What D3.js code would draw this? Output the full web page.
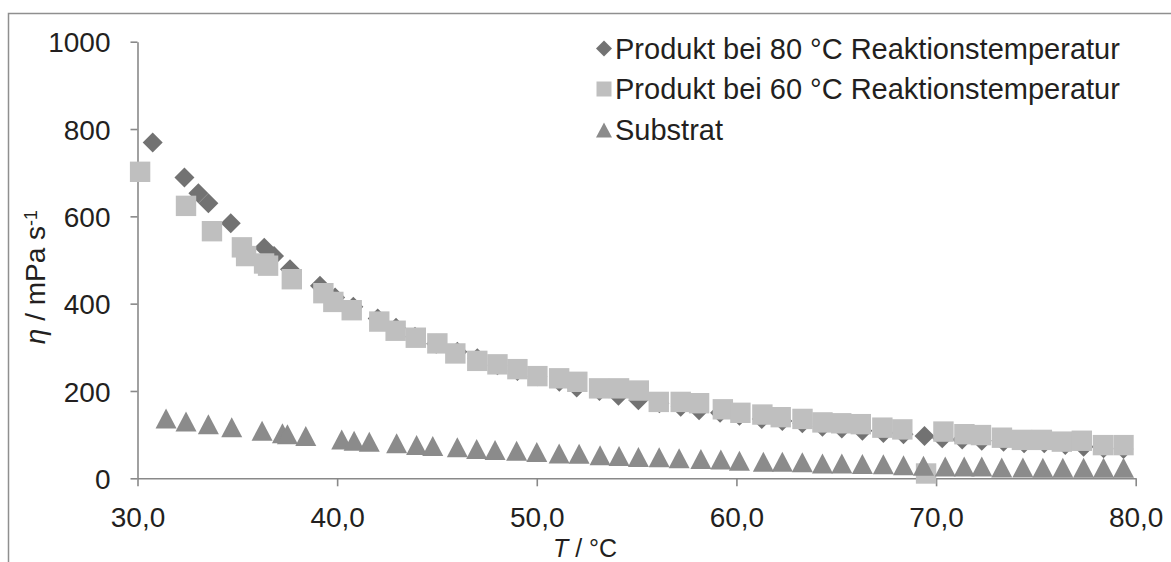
<!DOCTYPE html>
<html>
<head>
<meta charset="utf-8">
<script src="https://cdn.jsdelivr.net/npm/d3@7"></script>
<style>
  body { margin: 0; background: #fff; }
  svg { display: block; }
  text { font-family: "Liberation Sans", Arial, Helvetica, sans-serif; fill: #231f20; }
</style>
</head>
<body>
<svg id="chart" width="1171" height="562"></svg>
<script>
// Viscosity vs. temperature, three samples
const seriesNames = [
  "Produkt bei 80 °C Reaktionstemperatur",
  "Produkt bei 60 °C Reaktionstemperatur",
  "Substrat"
];

const tempP80 = [30.76, 32.35, 33.05, 33.55, 34.67, 36.35, 36.84, 37.64, 39.14, 39.9,
  40.81, 42.03, 42.95, 43.9, 44.96, 46.02, 47.02, 48.03, 49.03, 50.03,
  51.13, 52.0, 53.14, 54.09, 55.09, 56.14, 57.21, 58.13, 59.18, 60.15,
  61.27, 62.3, 63.3, 64.31, 65.28, 66.31, 67.36, 68.37, 69.42, 70.31,
  71.31, 72.29, 73.38, 74.41, 75.42, 76.47, 77.39, 78.39, 79.39];
const etaP80 = [769, 689, 653, 630, 584, 528, 509, 479, 441, 414,
  393, 366, 345, 324, 308, 290, 275, 259, 246, 234,
  221, 208, 200, 189, 179, 172, 164, 156, 150, 143,
  136, 131, 126, 118, 114, 109, 104, 101, 97, 92,
  89, 86, 84, 80, 80, 76, 72, 69, 67];

const tempP60 = [30.13, 32.43, 33.73, 35.23, 35.44, 36.34, 36.54, 37.73, 39.31, 39.81,
  40.73, 42.11, 42.93, 43.94, 45.02, 45.92, 47.02, 48.03, 49.03, 50.03,
  51.12, 52.03, 53.12, 54.12, 55.11, 56.11, 57.21, 58.13, 59.32, 60.2,
  61.3, 62.22, 63.31, 64.31, 65.25, 66.23, 67.31, 68.31, 69.5, 70.37,
  71.42, 72.25, 73.3, 74.3, 75.3, 76.3, 77.3, 78.36, 79.39];
const etaP60 = [702, 624, 566, 529, 509, 492, 487, 456, 424, 404,
  385, 359, 338, 322, 309, 286, 269, 261, 250, 234,
  229, 221, 206, 206, 201, 175, 175, 172, 158, 150,
  146, 140, 136, 128, 126, 124, 116, 112, 11, 107,
  101, 99, 93, 88, 88, 84, 86, 76, 76];

const tempSub = [31.43, 32.43, 33.55, 34.72, 36.24, 37.26, 37.51, 38.43,
  40.23, 40.85, 41.61, 42.98, 43.98, 44.79, 46.02, 46.99, 47.91, 48.99, 50.0,
  51.12, 52.12, 53.17, 54.12, 55.09, 56.13, 57.13, 58.22, 59.22, 60.15,
  61.35, 62.3, 63.3, 64.31, 65.28, 66.31, 67.36, 68.37, 69.37,
  70.46, 71.41, 72.29, 73.29, 74.35, 75.35, 76.35, 77.39, 78.39, 79.39];
const etaSub = [137, 130, 124, 117, 109, 103, 101, 97,
  89, 86, 84, 80, 76, 74, 71, 67, 65, 63, 60,
  57, 56, 53, 51, 49, 48, 46, 44, 43, 40,
  38, 38, 37, 34, 34, 33, 32, 30, 29,
  27, 27, 27, 25, 25, 24, 24, 24, 24, 24];

const xTicks = [30, 40, 50, 60, 70, 80];
const yTicks = [0, 200, 400, 600, 800, 1000];

const colors = ["#727272", "#bfbfbf", "#8b8b8b"];
const axisColor = "#898989";

const svg = d3.select("#chart");

// Outer chart frame (left and top edges)
svg.append("path")
  .attr("d", "M8.5,562 V13.5 H1171")
  .attr("fill", "none")
  .attr("stroke", "#8f8f8f")
  .attr("stroke-width", 1.5);

const x = d3.scaleLinear().domain([30, 80]).range([137.5, 1135.7]);
const y = d3.scaleLinear().domain([0, 1000]).range([478.3, 41.7]);

const fmt = d => d.toFixed(1).replace(".", ",");

// Y axis
const gy = svg.append("g")
  .attr("transform", `translate(${x(30)},0)`)
  .call(d3.axisLeft(y).tickValues(yTicks).tickSize(7).tickSizeOuter(0).tickPadding(20).tickFormat(d => d));
// X axis
const gx = svg.append("g")
  .attr("transform", `translate(0,${y(0)})`)
  .call(d3.axisBottom(x).tickValues(xTicks).tickSize(8).tickSizeOuter(0).tickPadding(21).tickFormat(fmt));

[gx, gy].forEach(g => {
  g.select(".domain").attr("stroke", axisColor).attr("stroke-width", 1.6);
  g.selectAll(".tick line").attr("stroke", axisColor).attr("stroke-width", 1.6);
  g.selectAll(".tick text").attr("fill", "#231f20")
    .style("font-size", "28px")
    .style("font-family", "'Liberation Sans', Arial, sans-serif");
});
gy.selectAll(".tick text").attr("dy", "0.36em");

// Marker shapes
const diamond = r => `M0,${-r}L${r},0L0,${r}L${-r},0Z`;
const square = r => `M${-r},${-r}H${r}V${r}H${-r}Z`;
const triangle = (w, h) => `M0,${-h / 2}L${w / 2},${h / 2}L${-w / 2},${h / 2}Z`;

const series = [
  { name: seriesNames[0], t: tempP80, v: etaP80, path: diamond(10), legend: diamond(8), color: colors[0] },
  { name: seriesNames[1], t: tempP60, v: etaP60, path: square(10.2), legend: square(7.5), color: colors[1] },
  { name: seriesNames[2], t: tempSub, v: etaSub, path: triangle(21, 20), legend: triangle(16, 15), color: colors[2] }
];

series.forEach(s => {
  const pts = s.t.map((t, i) => ({ t, v: s.v[i] }));
  svg.append("g").selectAll("path")
    .data(pts)
    .join("path")
    .attr("d", s.path)
    .attr("fill", s.color)
    .attr("transform", d => `translate(${x(d.t)},${y(d.v)})`);
});

// Legend
const legendRows = [58.5, 99, 140];
const legend = svg.append("g");
series.forEach((s, i) => {
  const g = legend.append("g").attr("transform", `translate(0,${legendRows[i]})`);
  g.append("path")
    .attr("d", s.legend)
    .attr("fill", s.color)
    .attr("transform", `translate(604,${-10})`);
  g.append("text")
    .attr("x", 615)
    .attr("y", 0)
    .style("font-size", "29px")
    .text(s.name);
});

// Axis titles
const yTitle = svg.append("text")
  .attr("transform", "translate(45,277) rotate(-90)")
  .attr("text-anchor", "middle")
  .style("font-size", "28px");
yTitle.append("tspan").style("font-style", "italic").text("η");
yTitle.append("tspan").text(" / mPa s");
yTitle.append("tspan").attr("dy", "-0.45em").style("font-size", "18px").text("-1");

const xTitle = svg.append("text")
  .attr("x", 585)
  .attr("y", 556.5)
  .attr("text-anchor", "middle")
  .style("font-size", "25px");
xTitle.append("tspan").style("font-style", "italic").text("T");
xTitle.append("tspan").text(" / °C");
</script>
</body>
</html>
